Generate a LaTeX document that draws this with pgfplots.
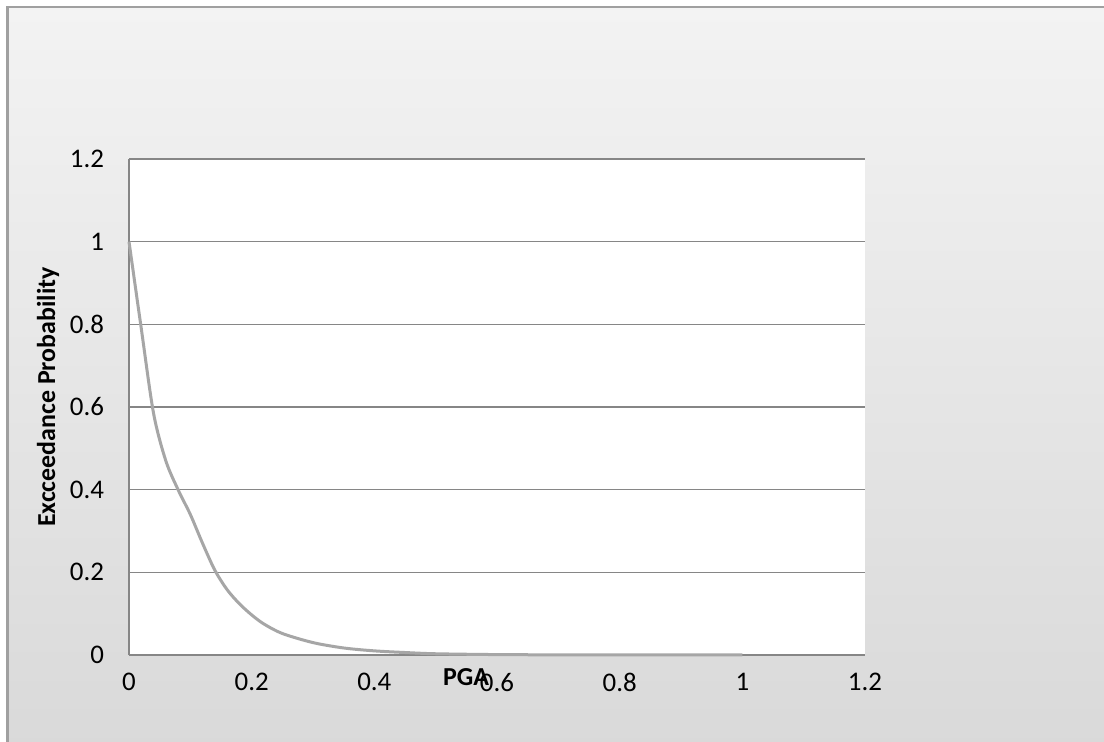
\documentclass[border=0pt]{standalone}
\usepackage{pgfplots}
\pgfplotsset{compat=1.18}
\usepackage{fontspec}
\setmainfont{Carlito}
\definecolor{bgtop}{HTML}{F3F3F3}
\definecolor{bgbot}{HTML}{D9D9D9}
\definecolor{framec}{HTML}{A0A0A0}
\definecolor{gridc}{HTML}{868686}
\definecolor{curvec}{HTML}{A6A6A6}
\begin{document}
\begin{tikzpicture}
\path[use as bounding box] (0,0) rectangle (552bp,371bp);
\shade[top color=bgtop, bottom color=bgbot] (3.75bp,-5bp) rectangle (560bp,367.5bp);
\draw[framec, line width=1.2bp] (3.75bp,-5bp) -- (3.75bp,367.5bp) -- (560bp,367.5bp);
\begin{axis}[
  at={(64.5bp,43.5bp)}, anchor=south west,
  scale only axis, width=368bp, height=248bp,
  xmin=0, xmax=1.2, ymin=0, ymax=1.2,
  xtick={0,0.2,...,1.2}, ytick={0,0.2,...,1.2},
  xticklabels={0,0.2,0.4,0.6,0.8,1,1.2},
  yticklabels={0,0.2,0.4,0.6,0.8,1,1.2},
  axis x line=bottom, axis y line=left,
  axis line style={draw=gridc, line width=0.6bp, -},
  major tick length=0pt,
  xmajorgrids=false, ymajorgrids=true,
  major grid style={draw=gridc, line width=0.6bp},
  axis background/.style={fill=white},
  tick label style={font=\fontsize{13.5}{15}\selectfont, text=black},
  /pgf/number format/assume math mode=true,
  yticklabel style={xshift=-9bp},
  xticklabel style={yshift=-5.5bp},
  xlabel={PGA}, ylabel={Excceedance Probability},
  label style={font=\fontsize{13}{15}\selectfont\bfseries},
  xlabel style={at={(axis description cs:0.458,0)}, anchor=center, yshift=-11bp},
  ylabel style={at={(axis description cs:-0.11,0.52)}, anchor=center, rotate=0},
  clip=false,
]
\addplot[curvec, line width=1.5bp, smooth, tension=0.5] coordinates {
(0,1)
(0.02,0.79)
(0.04,0.585)
(0.06,0.47)
(0.08,0.40)
(0.10,0.34)
(0.12,0.27)
(0.14,0.205)
(0.16,0.158)
(0.18,0.124)
(0.20,0.097)
(0.22,0.075)
(0.25,0.052)
(0.30,0.030)
(0.35,0.017)
(0.40,0.010)
(0.45,0.006)
(0.50,0.003)
(0.60,0.001)
(0.70,0.0004)
(0.80,0.0002)
(0.90,0.0001)
(1.00,0)
};
\end{axis}
\end{tikzpicture}
\end{document}
